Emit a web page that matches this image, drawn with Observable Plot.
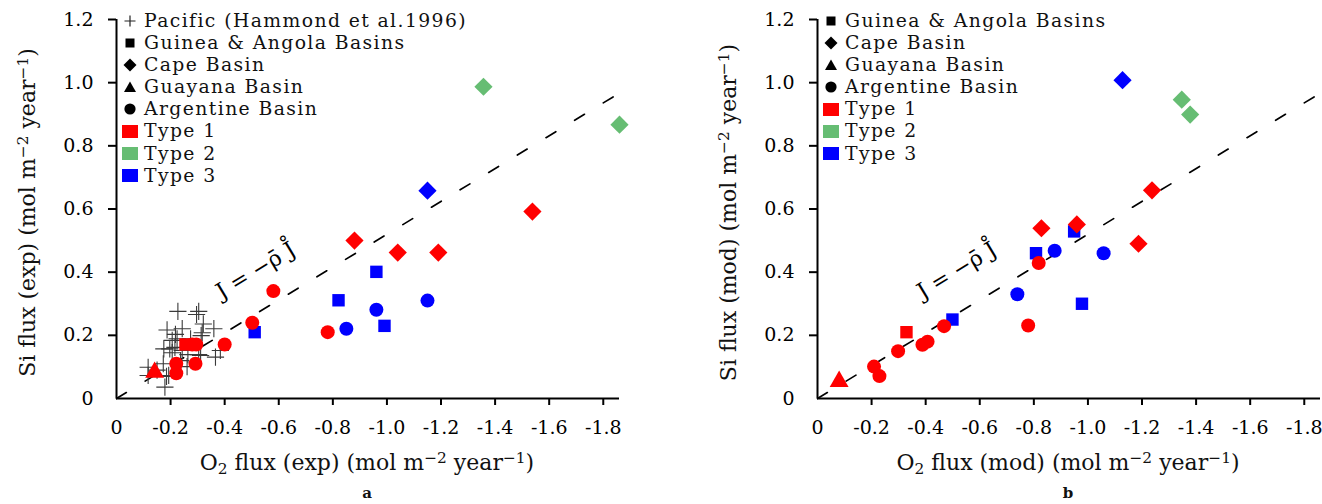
<!DOCTYPE html>
<html><head><meta charset="utf-8">
<script src="https://cdn.jsdelivr.net/npm/d3@7"></script>
<script src="https://cdn.jsdelivr.net/npm/@observablehq/plot@0.6"></script>
<style>
body{margin:0;background:#fff;font-family:"DejaVu Serif",serif;color:#111;}
#wrap{position:relative;width:1322px;height:504px;overflow:hidden;}
.panel{position:absolute;top:0;height:504px;}
.panel > svg{position:absolute;left:0;top:0;}
.legend{position:absolute;left:120px;top:10px;font-size:18.8px;line-height:22.1px;letter-spacing:1.4px;}
.legend .row{display:flex;align-items:center;height:22.1px;white-space:nowrap;}
.legend .mk{width:20px;height:22px;margin-right:4px;display:flex;justify-content:center;align-items:center;}
.xtitle{position:absolute;width:600px;text-align:center;font-size:22px;white-space:nowrap;}
.ytitle{position:absolute;width:500px;text-align:center;font-size:22px;white-space:nowrap;transform:rotate(-90deg);}
.letter{position:absolute;width:40px;text-align:center;font-size:15px;font-weight:bold;}
sup{font-size:70%;vertical-align:0.45em;line-height:0;}
sub{font-size:70%;vertical-align:-0.25em;line-height:0;}
</style></head>
<body><div id="wrap"></div>
<script>
// ---------- data ----------
const typeNames = ["Type 1", "Type 2", "Type 3"];
const typeColors = ["#ff0000", "#66bd73", "#0000ff"];
const basinNames = ["Guinea & Angola Basins", "Cape Basin", "Guayana Basin", "Argentine Basin"];
const basinSymbols = ["square", "diamond2", "triangle", "circle"];
const pacificLabel = "Pacific (Hammond et al.1996)";
const xTicks = [0, -0.2, -0.4, -0.6, -0.8, -1.0, -1.2, -1.4, -1.6, -1.8];
const yTicks = [0, 0.2, 0.4, 0.6, 0.8, 1.0, 1.2];
const xDomain = [0, -1.86];
const yDomain = [0, 1.2];
const rhoSlope = 0.52;
const relationLabel = "J = −ρ̄ J̊";
const relationPos = [-0.515, 0.405];

// Pacific (Hammond et al. 1996) : [O2 flux, Si flux]
const pacific = [
  [-0.227,0.276],[-0.304,0.276],[-0.296,0.266],[-0.321,0.236],[-0.187,0.217],[-0.243,0.221],
  [-0.360,0.221],[-0.218,0.203],[-0.317,0.208],[-0.224,0.189],[-0.274,0.189],[-0.175,0.157],
  [-0.197,0.157],[-0.216,0.162],[-0.243,0.152],[-0.206,0.145],[-0.311,0.136],[-0.384,0.152],
  [-0.366,0.131],[-0.173,0.110],[-0.261,0.101],[-0.117,0.099],[-0.117,0.073],[-0.185,0.070],
  [-0.179,0.036],[-0.313,0.199],[-0.206,0.184],[-0.304,0.139],[-0.264,0.139],[-0.193,0.073],
  [-0.237,0.120],[-0.150,0.090]
];

// panel a (exp): [basin, type, O2 flux, Si flux]
const expPoints = [
  ["Guinea & Angola Basins","Type 3",-0.961,0.401],["Guinea & Angola Basins","Type 3",-0.821,0.311],
  ["Guinea & Angola Basins","Type 3",-0.991,0.230],["Guinea & Angola Basins","Type 3",-0.511,0.210],
  ["Guinea & Angola Basins","Type 1",-0.255,0.171],
  ["Argentine Basin","Type 3",-0.961,0.281],["Argentine Basin","Type 3",-1.150,0.310],
  ["Argentine Basin","Type 3",-0.850,0.221],["Argentine Basin","Type 1",-0.781,0.210],
  ["Argentine Basin","Type 1",-0.580,0.340],["Argentine Basin","Type 1",-0.502,0.240],
  ["Argentine Basin","Type 1",-0.400,0.171],["Argentine Basin","Type 1",-0.292,0.110],
  ["Argentine Basin","Type 1",-0.221,0.110],["Argentine Basin","Type 1",-0.221,0.080],
  ["Argentine Basin","Type 1",-0.280,0.171],["Argentine Basin","Type 1",-0.295,0.171],
  ["Guayana Basin","Type 1",-0.141,0.083],
  ["Cape Basin","Type 2",-1.357,0.987],["Cape Basin","Type 2",-1.860,0.867],
  ["Cape Basin","Type 3",-1.150,0.658],["Cape Basin","Type 1",-0.880,0.500],
  ["Cape Basin","Type 1",-1.040,0.462],["Cape Basin","Type 1",-1.190,0.462],
  ["Cape Basin","Type 1",-1.538,0.592]
];

// panel b (mod): [basin, type, O2 flux, Si flux]
const modPoints = [
  ["Guinea & Angola Basins","Type 3",-0.949,0.529],["Guinea & Angola Basins","Type 3",-0.808,0.460],
  ["Guinea & Angola Basins","Type 3",-0.978,0.300],["Guinea & Angola Basins","Type 3",-0.499,0.250],
  ["Guinea & Angola Basins","Type 1",-0.329,0.210],
  ["Argentine Basin","Type 3",-0.877,0.468],["Argentine Basin","Type 3",-1.058,0.460],
  ["Argentine Basin","Type 3",-0.739,0.330],["Argentine Basin","Type 1",-0.818,0.429],
  ["Argentine Basin","Type 1",-0.779,0.231],["Argentine Basin","Type 1",-0.468,0.229],
  ["Argentine Basin","Type 1",-0.407,0.180],["Argentine Basin","Type 1",-0.388,0.170],
  ["Argentine Basin","Type 1",-0.298,0.150],["Argentine Basin","Type 1",-0.209,0.101],
  ["Argentine Basin","Type 1",-0.229,0.071],
  ["Guayana Basin","Type 1",-0.080,0.054],
  ["Cape Basin","Type 3",-1.128,1.008],["Cape Basin","Type 2",-1.347,0.946],
  ["Cape Basin","Type 2",-1.378,0.899],["Cape Basin","Type 1",-1.237,0.659],
  ["Cape Basin","Type 1",-0.828,0.539],["Cape Basin","Type 1",-0.959,0.551],
  ["Cape Basin","Type 1",-1.187,0.490]
];

// ---------- drawing ----------
const fmt = d => d === 0 ? "0" : d.toFixed(1);
const symbolSize = {"square": 7.0, "diamond2": 8.2, "triangle": 7.0, "circle": 7.0};
const drawOrder = ["Guinea & Angola Basins", "Argentine Basin", "Guayana Basin", "Cape Basin"];

function panel(left, width, points, withPacific, tag, letter) {
  const div = document.createElement("div");
  div.className = "panel";
  div.style.left = left + "px";
  div.style.width = width + "px";
  document.getElementById("wrap").appendChild(div);

  const rows = points.map(([basin, type, x, y]) => ({basin, type, x, y}));
  const refLine = [xDomain[0], xDomain[1]].map(x => ({x, y: rhoSlope * -x}));
  const marks = [];
  marks.push(Plot.line(refLine, {x: "x", y: "y", stroke: "black", strokeWidth: 1.7, strokeDasharray: "11.5,22"}));
  marks.push(Plot.text([relationPos], {x: d => d[0], y: d => d[1], text: () => relationLabel, rotate: -31.3, fontSize: 22, fill: "black"}));
  if (withPacific) {
    marks.push(Plot.dot(pacific, {x: d => d[0], y: d => d[1], symbol: "plus", stroke: "#3a3a3a", strokeWidth: 1.1, r: 5.6}));
  }
  for (const b of drawOrder) {
    const sym = basinSymbols[basinNames.indexOf(b)];
    marks.push(Plot.dot(rows.filter(d => d.basin === b), {x: "x", y: "y", symbol: sym, fill: "type", r: symbolSize[sym]}));
  }
  marks.push(Plot.ruleY([0], {x1: xDomain[0], x2: xDomain[1], stroke: "black", strokeWidth: 2}));
  marks.push(Plot.ruleX([0], {y1: yDomain[0], y2: yDomain[1], stroke: "black", strokeWidth: 2}));
  marks.push(Plot.axisX(xTicks.filter(d => d !== 0), {tickSize: 7, strokeWidth: 2, tickFormat: () => "", label: null}));
  marks.push(Plot.axisX(xTicks, {tickSize: 0, tickPadding: 22, tickFormat: fmt, fontSize: 19, label: null}));
  marks.push(Plot.axisY(yTicks.filter(d => d !== 0), {tickSize: 8, strokeWidth: 2, tickFormat: () => "", label: null}));
  marks.push(Plot.axisY(yTicks, {tickSize: 0, tickPadding: 23, tickFormat: fmt, fontSize: 19, label: null}));

  const chart = Plot.plot({
    width, height: 480,
    marginLeft: 116, marginRight: width - 116 - 503, marginTop: 19, marginBottom: 82,
    x: {domain: xDomain, axis: null},
    y: {domain: yDomain, axis: null},
    color: {domain: typeNames, range: typeColors},
    symbol: {domain: basinSymbols, range: basinSymbols},
    style: {fontFamily: "DejaVu Serif", fontSize: "19px", color: "black", background: "white"},
    marks
  });
  div.appendChild(chart);

  // legend
  const lg = document.createElement("div");
  lg.className = "legend";
  const shapeSvg = {
    "plus": '<svg width="14" height="14"><path d="M7 1.5V12.5M1.5 7H12.5" stroke="#222" stroke-width="1.2"/></svg>',
    "square": '<svg width="12" height="12"><rect x="1.5" y="1.5" width="9" height="9" fill="black"/></svg>',
    "diamond2": '<svg width="14" height="14"><path d="M7 0.5L13.5 7L7 13.5L0.5 7Z" fill="black"/></svg>',
    "triangle": '<svg width="14" height="14"><path d="M7 1.5L13 12H1Z" fill="black"/></svg>',
    "circle": '<svg width="14" height="14"><circle cx="7" cy="7" r="5.6" fill="black"/></svg>'
  };
  const items = [];
  if (withPacific) items.push([shapeSvg.plus, pacificLabel]);
  basinNames.forEach((b, i) => items.push([shapeSvg[basinSymbols[i]], b]));
  typeNames.forEach((t, i) => items.push([`<svg width="16" height="13"><rect width="16" height="13" fill="${typeColors[i]}"/></svg>`, t]));
  lg.innerHTML = items.map(([m, t]) => `<div class="row"><span class="mk">${m}</span><span></span></div>`).join("");
  lg.querySelectorAll(".row").forEach((r, i) => r.lastChild.textContent = items[i][1]);
  div.appendChild(lg);

  const xt = document.createElement("div");
  xt.className = "xtitle";
  xt.style.left = (367 - 300) + "px";
  xt.style.top = "450px";
  xt.innerHTML = `O<sub>2</sub> flux (${tag}) (mol m<sup>−2</sup> year<sup>−1</sup>)`;
  div.appendChild(xt);

  const yt = document.createElement("div");
  yt.className = "ytitle";
  yt.style.left = (27 - 250) + "px";
  yt.style.top = (214 - 14) + "px";
  yt.innerHTML = `Si flux (${tag}) (mol m<sup>−2</sup> year<sup>−1</sup>)`;
  div.appendChild(yt);

  const lt = document.createElement("div");
  lt.className = "letter";
  lt.style.left = (367 - 20) + "px";
  lt.style.top = "484px";
  lt.textContent = letter;
  div.appendChild(lt);
}

panel(0, 700, expPoints, true, "exp", "a");
panel(701, 621, modPoints, false, "mod", "b");
</script>
</body></html>
